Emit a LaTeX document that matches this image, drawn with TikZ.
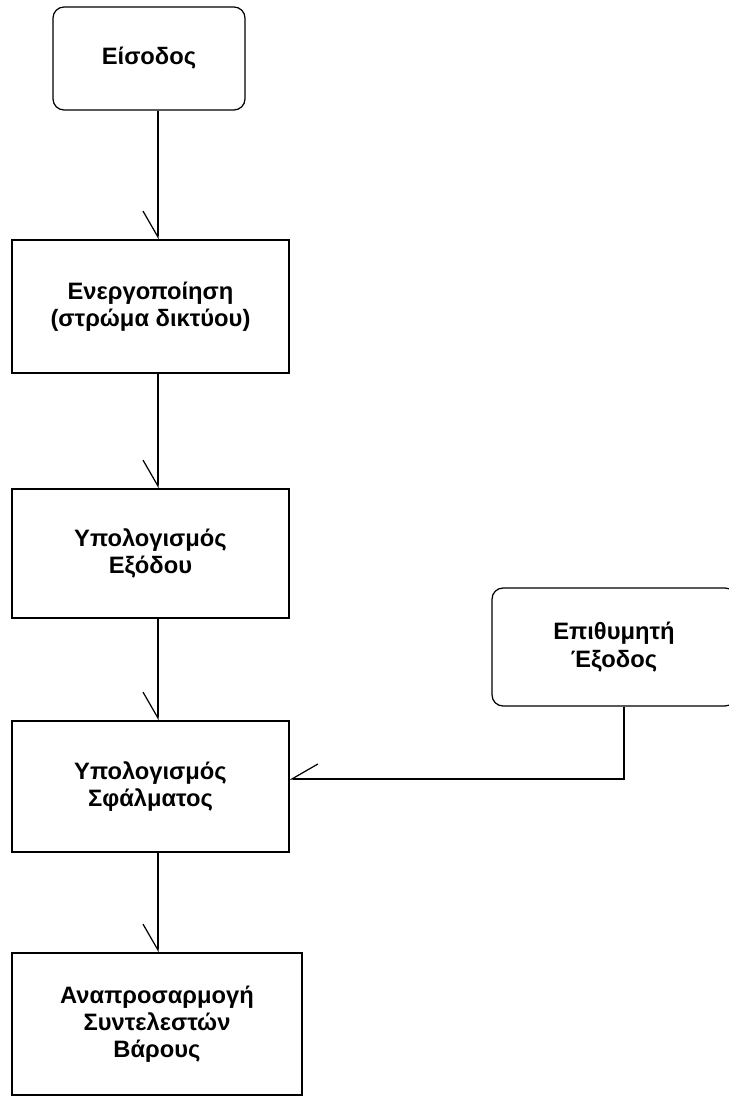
\documentclass[tikz,border=0pt]{standalone}
\usepackage{fontspec}
\setmainfont{Liberation Sans}
\usetikzlibrary{arrows.meta}

\begin{document}
\begin{tikzpicture}[x=0.02cm,y=-0.02cm,line width=0.7pt,
    box/.style={draw,align=center,inner sep=0pt,
      font=\bfseries\fontsize{13.5}{15.5}\selectfont},
    term/.style={box,rounded corners=0.22cm},
    flow/.style={-{Straight Barb[right,length=0.52cm,width=0.6cm]}}]
    \useasboundingbox (0,0) rectangle (729,1097);
    % blocks
    \node[term,minimum width=3.84cm,minimum height=2.06cm] (in) at (149,58.5) {Είσοδος};
    \node[box,minimum width=5.54cm,minimum height=2.66cm] (act) at (150.5,306.5) {Ενεργοποίηση\\(στρώμα δικτύου)};
    \node[box,minimum width=5.54cm,minimum height=2.58cm] (outp) at (150.5,553.5) {Υπολογισμός\\Εξόδου};
    \node[box,minimum width=5.54cm,minimum height=2.62cm] (err) at (150.5,786.5) {Υπολογισμός\\Σφάλματος};
    \node[box,minimum width=5.80cm,minimum height=2.84cm] (upd) at (157,1024) {Αναπροσαρμογή\\Συντελεστών\\Βάρους};
    \node[term,minimum width=4.88cm,minimum height=2.36cm] (des) at (614,647) {Επιθυμητή\\Έξοδος};
    \coordinate (spine) at (158,0);
    \coordinate (tap) at (624,779);
    % connectors
    \draw[flow] (in.south -| spine) -- (act.north -| spine);
    \draw[flow] (act.south -| spine) -- (outp.north -| spine);
    \draw[flow] (outp.south -| spine) -- (err.north -| spine);
    \draw[flow] (err.south -| spine) -- (upd.north -| spine);
    \draw[flow] (des.south -| tap) -- (tap) -- (err.east |- tap);
\end{tikzpicture}
\end{document}
